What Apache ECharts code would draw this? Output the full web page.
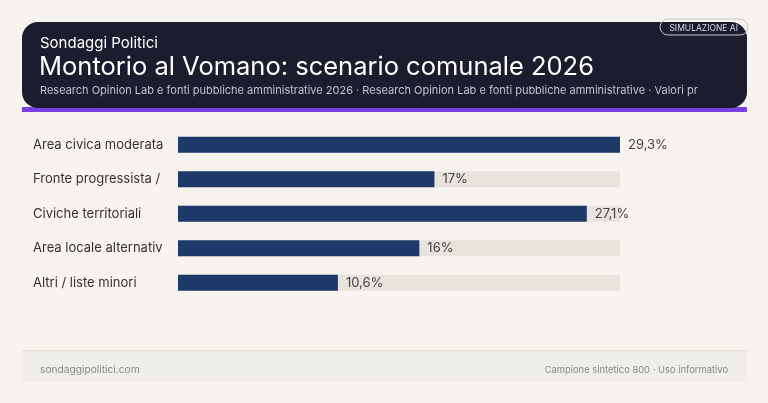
<!DOCTYPE html>
<html>
<head>
<meta charset="utf-8">
<script src="https://cdn.jsdelivr.net/npm/echarts@6/dist/echarts.min.js"></script>
<style>
html,body{margin:0;padding:0;background:#f7f3ee;}
#c{width:768px;height:403px;}
</style>
</head>
<body>
<div id="c"></div>
<script>
const categories = ["Area civica moderata", "Fronte progressista /", "Civiche territoriali", "Area locale alternativ", "Altri / liste minori"];
const values = [29.3, 17, 27.1, 16, 10.6];
const valueLabels = ["29,3%", "17%", "27,1%", "16%", "10,6%"];

const FONT = 'Inter, "Noto Sans", sans-serif';
const chart = echarts.init(document.getElementById('c'), null, {renderer: 'canvas'});
const maxV = Math.max(...values);

chart.setOption({
  backgroundColor: '#f7f3ee',
  animation: false,
  grid: {left: 178, right: 148, top: 127.5, height: 172.5, containLabel: false},
  xAxis: {type: 'value', min: 0, max: maxV, show: false},
  yAxis: {
    type: 'category', data: categories, inverse: true,
    axisLine: {show: false}, axisTick: {show: false}, splitLine: {show: false},
    axisLabel: {align: 'left', margin: 145, color: '#333333', fontSize: 13, fontFamily: FONT}
  },
  series: [{
    type: 'bar',
    data: values,
    barWidth: 16,
    itemStyle: {color: '#1e3a6a'},
    showBackground: true,
    backgroundStyle: {color: '#e8e3dc'},
    label: {
      show: true, position: 'right', distance: 8,
      color: '#444444', fontSize: 13, fontFamily: FONT,
      formatter: p => valueLabels[p.dataIndex]
    }
  }],
  graphic: [
    {type: 'rect', shape: {x: 22, y: 107, width: 725, height: 5}, style: {fill: '#7b3fe4'}, z: 1},
    {type: 'rect', shape: {x: 22, y: 22, width: 725, height: 86, r: 16}, style: {fill: '#1b1c2e'}, z: 2},
    {type: 'rect', shape: {x: 660, y: 19, width: 88, height: 16, r: 8}, style: {fill: 'none', stroke: '#c8c8cc', lineWidth: 1}, z: 3},
    {type: 'text', x: 738, y: 28, style: {text: 'SIMULAZIONE AI', fill: '#d8d8dc', fontSize: 8.5, fontFamily: FONT, align: 'right', verticalAlign: 'middle'}, z: 4},
    {type: 'text', x: 40, y: 43, style: {text: 'Sondaggi Politici', fill: '#ffffff', fontSize: 15, fontFamily: FONT, verticalAlign: 'middle'}, z: 4},
    {type: 'text', x: 39, y: 67, style: {text: 'Montorio al Vomano: scenario comunale 2026', fill: '#ffffff', fontSize: 25.5, fontFamily: FONT, verticalAlign: 'middle'}, z: 4},
    {type: 'text', x: 40, y: 90.5, style: {text: 'Research Opinion Lab e fonti pubbliche amministrative 2026 · Research Opinion Lab e fonti pubbliche amministrative · Valori pr', fill: '#c2c3cc', fontSize: 11, fontFamily: FONT, verticalAlign: 'middle'}, z: 4},
    {type: 'rect', shape: {x: 22, y: 350, width: 725, height: 32}, style: {fill: '#f0eeea'}, z: 1},
    {type: 'rect', shape: {x: 22, y: 350, width: 725, height: 1.5}, style: {fill: '#e8e2d6'}, z: 2},
    {type: 'text', x: 40, y: 370, style: {text: 'sondaggipolitici.com', fill: '#888888', fontSize: 10.2, fontFamily: FONT, verticalAlign: 'middle'}, z: 3},
    {type: 'text', x: 728, y: 370, style: {text: 'Campione sintetico 800 · Uso informativo', fill: '#888888', fontSize: 9.4, fontFamily: FONT, align: 'right', verticalAlign: 'middle'}, z: 3}
  ]
});
</script>
</body>
</html>
